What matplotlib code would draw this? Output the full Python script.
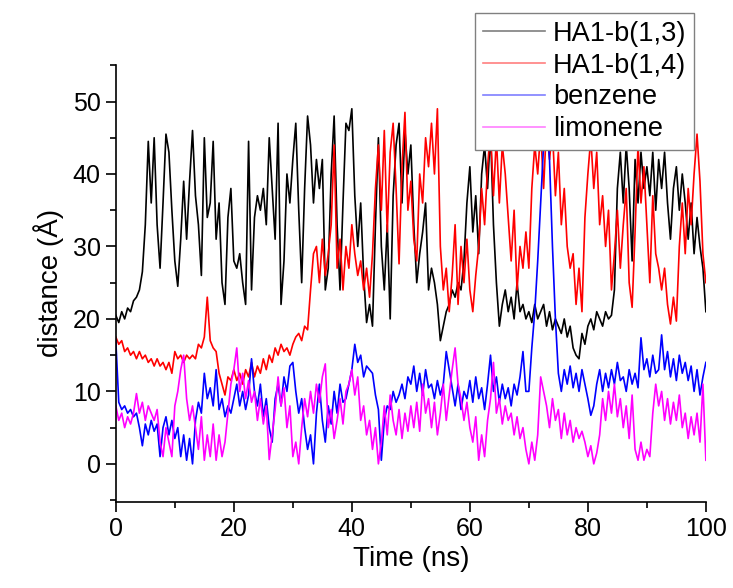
import numpy as np
import matplotlib
matplotlib.use("Agg")
import matplotlib.pyplot as plt
from matplotlib.lines import Line2D
from matplotlib.ticker import MultipleLocator

plt.rcParams['font.family'] = ['Liberation Sans', 'DejaVu Sans']

# time axis, 0.5 ns sampling
time_ns = np.arange(0, 100.5, 0.5)

# distances (Angstrom)
ha1_b13 = [
    20.5, 19.5, 21, 20, 21.5, 21, 22.5, 23, 24, 26.5, 33, 44.5, 36, 45, 33, 27, 36, 45.5, 43, 35,
    28, 24.5, 31, 39, 31, 39, 46, 37, 33, 26, 45, 34, 36, 44.5, 31, 36, 25, 22, 34, 38,
    28, 27, 29, 25, 22, 44.5, 24, 34, 37, 35, 38, 33, 45, 38, 31, 47, 22, 28, 40, 36,
    42, 47, 35, 25, 38, 48, 44, 36, 42, 38, 42, 24, 27, 40, 48, 33, 24, 36, 47, 46,
    49, 37, 30, 36, 26, 19.5, 22, 19, 33, 45, 30, 24, 33, 20, 37, 44, 47, 36, 46, 40,
    44, 33, 25, 29, 32, 36, 24, 27, 25, 22, 17, 19, 21, 22, 24, 23, 25, 24, 28, 36,
    41, 32, 37, 29, 40, 44, 38, 46, 33, 25, 19, 22, 24, 21, 23, 20, 25, 21, 22, 20,
    21, 19.5, 22, 20, 21, 22, 19, 21, 18.5, 20, 19, 18, 20, 17.5, 19, 16, 15, 14.5, 18, 16.5,
    19, 20, 18.5, 21, 20, 19, 21, 20, 20.5, 24, 38, 43, 36, 44, 38, 28, 42, 36, 43, 38,
    41, 37, 43, 35, 42, 38, 43, 36, 31, 38, 41, 35, 40, 36, 31, 36, 29, 34, 30, 27,
    21,
]

ha1_b14 = [
    17.5, 16.5, 17, 15.5, 16, 15, 15.5, 14.5, 15.5, 14.5, 15, 14, 14.5, 13.5, 14.5, 13.5, 14, 13, 14, 12.5,
    15.5, 14.5, 15, 14, 15, 14.5, 15, 14.5, 16.5, 16, 17.5, 23, 17, 16, 15.5, 12.5, 11, 9.5, 12, 11.5,
    13, 11.5, 12.5, 11, 13, 12, 14, 12, 13.5, 12.5, 14.5, 13, 15, 14, 16, 15, 16.5, 15.5, 16, 15,
    16.5, 17.5, 18, 17, 19, 18.5, 24, 29, 30, 25, 31, 26, 29, 33, 44, 27, 31, 24, 30, 27,
    33, 29, 26, 28, 24, 27, 23, 29, 38, 44, 35, 46, 32, 43, 47, 38, 27.6, 41, 48.5, 35,
    39, 31, 28, 40, 36, 45, 41, 47, 40, 49, 30, 24, 27, 21, 26, 33, 22, 30, 25, 31,
    24, 21, 26, 30, 38, 33, 41, 46, 37, 45, 36, 44, 40, 34, 28, 35, 24, 30, 27, 32,
    27, 38, 44, 40, 46, 38, 47, 42, 46, 37, 43, 33, 38, 30, 27, 29, 22, 27, 21, 34,
    40, 45, 38, 43, 33, 37, 30, 35, 24, 29, 35, 27, 33, 38, 25, 21.6, 32, 44, 36, 41,
    33, 25, 37, 29, 27, 24, 27, 22, 19.3, 23, 19.7, 30, 36, 29, 38, 33, 40, 45.5, 39, 29,
    25,
]

benzene = [
    17, 8.5, 7.5, 8, 7, 7.5, 6.5, 7, 5, 2.5, 5.5, 4, 6, 4.5, 5.5, 1, 5, 6.5, 4, 6,
    3.5, 5, 1, 4, 0.5, 3.5, 0, 6, 8.5, 7, 12.5, 9, 10.5, 8, 13, 7.5, 9, 6.5, 8, 7,
    9, 11, 8, 10, 7.5, 9.5, 14.5, 10, 8, 11, 6.5, 9, 5, 3, 9, 11, 8, 12, 10, 13.5,
    14, 10, 7, 9, 5, 2, 4, 0, 7, 11, 6, 3, 8, 5.5, 10, 7, 11, 8.5, 9, 11,
    13, 16.5, 14, 15, 12, 13.5, 13, 12.5, 9.5, 7.5, 0.5, 6, 8, 7.5, 10, 8.5, 9.5, 11, 9, 12,
    11, 13.5, 10, 12.5, 9.5, 13, 10.5, 11, 9, 11.5, 9.5, 11, 15.5, 13, 10.5, 8, 11, 7.5, 10, 9,
    11.5, 8.5, 12, 9, 10.5, 7.5, 11, 15, 10, 12, 8.5, 11, 9, 10.5, 8, 11, 9.5, 12, 15.5, 10,
    10, 16, 21, 28, 36, 44, 48, 42, 30, 20, 12.5, 10, 13, 11, 13.5, 10.5, 12.5, 10, 13, 11,
    9, 6.7, 8, 11, 13, 10, 12.5, 10.5, 13, 11, 14, 11.5, 12, 10, 13, 11, 12.5, 10.5, 17.4, 13,
    14.5, 12, 15, 12.5, 13, 17.8, 13, 15.5, 12, 14.5, 11.5, 15, 12.5, 14, 11.5, 13.5, 10, 13, 9.5, 12,
    14,
]

limonene = [
    8, 6, 7, 5, 6.5, 5.5, 7, 9.7, 7, 8.5, 6, 8, 7, 6, 7.5, 3, 1, 5, 3, 1,
    8, 10, 13, 15, 9, 6, 8, 5, 2, 6.5, 0.5, 4, 1, 5.5, 0.5, 4, 1, 3, 7, 11,
    13, 16, 10, 12.5, 9, 11.5, 8.5, 10, 6, 9, 5.5, 8, 0.6, 4, 7.5, 12, 8, 10.5, 5, 8,
    1, 3, 0, 5, 9, 6.5, 10, 7, 11, 8.5, 12, 13.8, 5, 7.5, 3.5, 6, 9, 5.5, 10, 11,
    13, 9.5, 12, 6, 8, 4, 6, 2, 5, 0, 3, 8, 4, 9.5, 6, 4, 7.5, 3.5, 7, 4.5,
    8, 5, 8.5, 4.5, 11, 7, 9, 5, 8.5, 4, 7, 11, 6, 9.5, 13, 16, 11, 9, 6, 8.5,
    5, 3, 6.5, 0.5, 4, 1, 6, 9, 14, 7, 9, 5.5, 8, 6, 7, 4, 6.5, 3.5, 5, 2,
    0, 3, 0.5, 4, 12, 10, 8, 5, 9, 6, 7.5, 3.5, 7, 4, 6, 3, 5, 3.5, 4.5, 3,
    1, 2.5, 0, 1.5, 4, 9, 6, 10, 7, 11, 6.5, 9, 5, 8, 3.5, 9.5, 2, 0.5, 3, 0.5,
    2, 1, 7, 11, 8, 10, 6, 9, 5.5, 8.5, 6, 9.5, 5, 7, 3.5, 6.5, 4, 7, 3, 11,
    0.5,
]

labels = ['HA1-b(1,3)', 'HA1-b(1,4)', 'benzene', 'limonene']
colors = ['#000000', '#ff0000', '#0000ff', '#ff00ff']

fig = plt.figure(figsize=(7.33, 5.88), dpi=100)
ax = fig.add_axes([0.158, 0.147, 0.805, 0.742])

for series, col in zip([ha1_b13, ha1_b14, benzene, limonene], colors):
    ax.plot(time_ns, series, color=col, linewidth=1.2)

ax.set_xlim(0, 100)
ax.set_ylim(-5.2, 55)
ax.xaxis.set_major_locator(MultipleLocator(20))
ax.xaxis.set_minor_locator(MultipleLocator(10))
ax.yaxis.set_major_locator(MultipleLocator(10))
ax.yaxis.set_minor_locator(MultipleLocator(5))
ax.tick_params(which='major', direction='out', length=7, width=1.2, labelsize=18, pad=4)
ax.tick_params(which='minor', direction='out', length=4, width=1.2)
ax.spines['top'].set_visible(False)
ax.spines['right'].set_visible(False)
ax.spines['left'].set_linewidth(1.2)
ax.spines['bottom'].set_linewidth(1.2)

ax.set_xlabel('Time (ns)', fontsize=20, labelpad=4)
ax.set_ylabel('distance (Å)', fontsize=20, labelpad=6)

# legend with faded handle lines, overlapping the top of the plot
handles = [Line2D([], [], color=c, linewidth=1.2, alpha=0.5) for c in colors]
leg = fig.legend(handles, labels, loc='upper right',
                 bbox_to_anchor=(694 / 733, 1 - 13 / 588),
                 fontsize=19.5, frameon=True, fancybox=False, framealpha=1,
                 edgecolor='#808080', handlelength=2.3, handletextpad=0.3,
                 labelspacing=0.22, borderpad=0.28, borderaxespad=0)
leg.get_frame().set_linewidth(1.0)

fig.savefig('out.png', dpi=100)
